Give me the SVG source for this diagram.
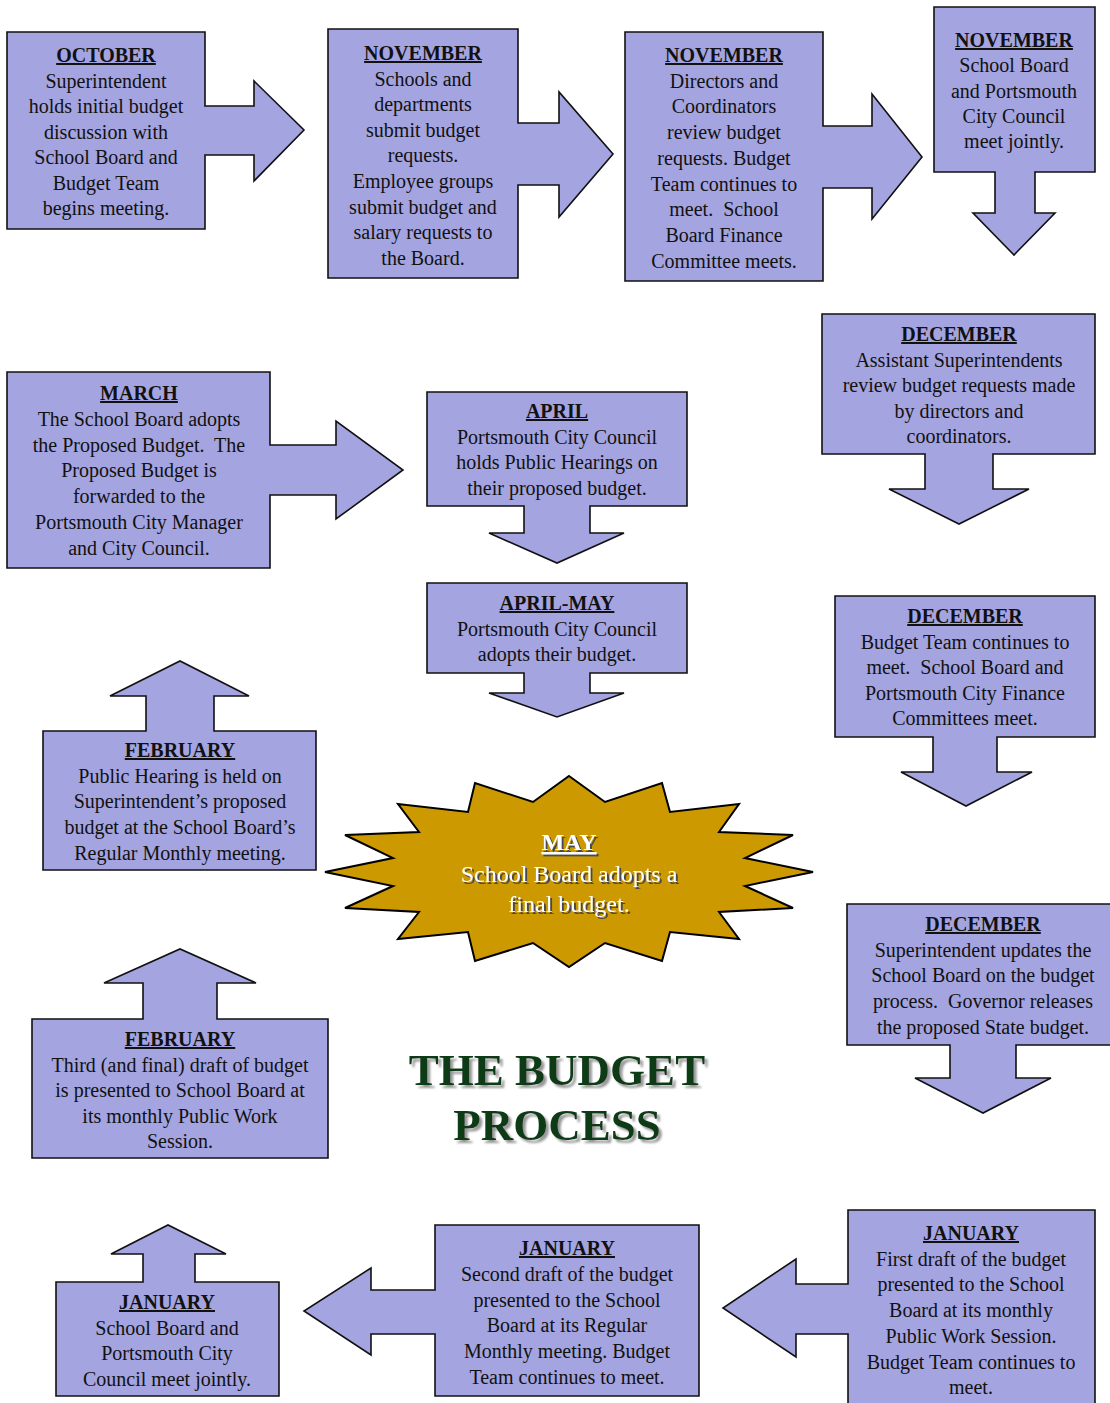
<svg xmlns="http://www.w3.org/2000/svg" width="1110" height="1403" viewBox="0 0 1110 1403">
<defs>
<style>
.shape{fill:#A4A4E0;stroke:#111;stroke-width:1.6;stroke-linejoin:miter}
.t{font-family:"Liberation Serif","Times New Roman",serif;font-size:20px;fill:#111;text-anchor:middle;white-space:pre}
.h{font-weight:bold;text-decoration:underline}
.star{fill:#CC9900;stroke:#000;stroke-width:2}
.st{font-family:"Liberation Serif","Times New Roman",serif;font-size:24px;text-anchor:middle;white-space:pre;fill:#fff}
.title{font-family:"Liberation Serif","Times New Roman",serif;font-size:45px;font-weight:bold;text-anchor:middle;fill:#0B3A18}
</style>
<filter id="tsh" x="-10%" y="-30%" width="120%" height="160%"><feDropShadow dx="3" dy="3" stdDeviation="1.2" flood-color="#999999" flood-opacity="1"/></filter>
<filter id="ssh" x="-10%" y="-30%" width="120%" height="160%"><feDropShadow dx="2" dy="2" stdDeviation="0.4" flood-color="#4a4a4a" flood-opacity="1"/></filter>
</defs>
<rect width="1110" height="1403" fill="#fff"/>

<g id="oct">
<polygon class="shape" points="7,32 205,32 205,106 254,106 254,81 304,130 254,181 254,155 205,155 205,229 7,229"/>
<text class="t"><tspan class="h" x="106" y="62">OCTOBER</tspan><tspan x="106" y="87.5">Superintendent</tspan><tspan x="106" y="113">holds initial budget</tspan><tspan x="106" y="138.5">discussion with</tspan><tspan x="106" y="164">School Board and</tspan><tspan x="106" y="189.5">Budget Team</tspan><tspan x="106" y="215">begins meeting.</tspan></text>
</g>

<g id="nov1">
<polygon class="shape" points="328,29 518,29 518,123 559,123 559,92 613,154 559,217 559,185 518,185 518,278 328,278"/>
<text class="t"><tspan class="h" x="423" y="60">NOVEMBER</tspan><tspan x="423" y="85.6">Schools and</tspan><tspan x="423" y="111.2">departments</tspan><tspan x="423" y="136.8">submit budget</tspan><tspan x="423" y="162.4">requests.</tspan><tspan x="423" y="188">Employee groups</tspan><tspan x="423" y="213.6">submit budget and</tspan><tspan x="423" y="239.2">salary requests to</tspan><tspan x="423" y="264.8">the Board.</tspan></text>
</g>

<g id="nov2">
<polygon class="shape" points="625,32 823,32 823,126 872,126 872,94 922,157 872,219 872,188 823,188 823,281 625,281"/>
<text class="t"><tspan class="h" x="724" y="62">NOVEMBER</tspan><tspan x="724" y="87.7">Directors and</tspan><tspan x="724" y="113.4">Coordinators</tspan><tspan x="724" y="139.1">review budget</tspan><tspan x="724" y="164.8">requests. Budget</tspan><tspan x="724" y="190.5">Team continues to</tspan><tspan x="724" y="216.2">meet.  School</tspan><tspan x="724" y="241.9">Board Finance</tspan><tspan x="724" y="267.6">Committee meets.</tspan></text>
</g>

<g id="nov3">
<polygon class="shape" points="934,7 1095,7 1095,172 1035,172 1035,213 1055,213 1014,255 973,213 995,213 995,172 934,172"/>
<text class="t"><tspan class="h" x="1014" y="47">NOVEMBER</tspan><tspan x="1014" y="72.3">School Board</tspan><tspan x="1014" y="97.6">and Portsmouth</tspan><tspan x="1014" y="122.9">City Council</tspan><tspan x="1014" y="148.2">meet jointly.</tspan></text>
</g>

<g id="dec1">
<polygon class="shape" points="822,314 1095,314 1095,454 993,454 993,489 1029,489 959,524 889,489 925,489 925,454 822,454"/>
<text class="t"><tspan class="h" x="959" y="341">DECEMBER</tspan><tspan x="959" y="366.5">Assistant Superintendents</tspan><tspan x="959" y="392">review budget requests made</tspan><tspan x="959" y="417.5">by directors and</tspan><tspan x="959" y="443">coordinators.</tspan></text>
</g>

<g id="march">
<polygon class="shape" points="7,372 270,372 270,445 336,445 336,421 403,470 336,519 336,495 270,495 270,568 7,568"/>
<text class="t"><tspan class="h" x="139" y="400">MARCH</tspan><tspan x="139" y="425.8">The School Board adopts</tspan><tspan x="139" y="451.6">the Proposed Budget.  The</tspan><tspan x="139" y="477.4">Proposed Budget is</tspan><tspan x="139" y="503.2">forwarded to the</tspan><tspan x="139" y="529">Portsmouth City Manager</tspan><tspan x="139" y="554.8">and City Council.</tspan></text>
</g>

<g id="april">
<polygon class="shape" points="427,392 687,392 687,506 590,506 590,533 624,533 557,563 489,533 524,533 524,506 427,506"/>
<text class="t"><tspan class="h" x="557" y="418">APRIL</tspan><tspan x="557" y="443.7">Portsmouth City Council</tspan><tspan x="557" y="469.4">holds Public Hearings on</tspan><tspan x="557" y="495.1">their proposed budget.</tspan></text>
</g>

<g id="aprilmay">
<polygon class="shape" points="427,583 687,583 687,673 590,673 590,693 624,693 557,717 489,693 524,693 524,673 427,673"/>
<text class="t"><tspan class="h" x="557" y="610">APRIL-MAY</tspan><tspan x="557" y="635.7">Portsmouth City Council</tspan><tspan x="557" y="661.4">adopts their budget.</tspan></text>
</g>

<g id="dec2">
<polygon class="shape" points="835,596 1095,596 1095,737 997,737 997,772 1032,772 966,806 901,772 933,772 933,737 835,737"/>
<text class="t"><tspan class="h" x="965" y="623">DECEMBER</tspan><tspan x="965" y="648.5">Budget Team continues to</tspan><tspan x="965" y="674">meet.  School Board and</tspan><tspan x="965" y="699.5">Portsmouth City Finance</tspan><tspan x="965" y="725">Committees meet.</tspan></text>
</g>

<g id="feb1">
<polygon class="shape" points="43,731 146,731 146,696 110,696 180,661 249,696 214,696 214,731 316,731 316,870 43,870"/>
<text class="t"><tspan class="h" x="180" y="757">FEBRUARY</tspan><tspan x="180" y="782.7">Public Hearing is held on</tspan><tspan x="180" y="808.4">Superintendent’s proposed</tspan><tspan x="180" y="834.1">budget at the School Board’s</tspan><tspan x="180" y="859.8">Regular Monthly meeting.</tspan></text>
</g>

<g id="may">
<polygon class="star" points="569,776 605,802 662,783 670,812 739,804 719,832 793,835 745,858 813,872 745,886 793,908 719,912 739,939 670,932 662,961 605,943 569,967 533,943 475,961 468,932 398,939 419,912 345,908 393,886 325,872 393,858 345,835 419,832 398,804 468,812 475,783 533,802"/>
<text class="st" filter="url(#ssh)"><tspan x="569" y="850" font-weight="bold" text-decoration="underline">MAY</tspan><tspan x="569" y="882">School Board adopts a</tspan><tspan x="569" y="912">final budget.</tspan></text>
</g>

<g id="dec3">
<polygon class="shape" points="847,904 1113,904 1113,1045 1016,1045 1016,1078 1051,1078 983,1113 915,1078 950,1078 950,1045 847,1045"/>
<text class="t"><tspan class="h" x="983" y="931">DECEMBER</tspan><tspan x="983" y="956.7">Superintendent updates the</tspan><tspan x="983" y="982.4">School Board on the budget</tspan><tspan x="983" y="1008.1">process.  Governor releases</tspan><tspan x="983" y="1033.8">the proposed State budget.</tspan></text>
</g>

<g id="feb2">
<polygon class="shape" points="32,1019 143,1019 143,983 104,983 180,949 256,983 217,983 217,1019 328,1019 328,1158 32,1158"/>
<text class="t"><tspan class="h" x="180" y="1046">FEBRUARY</tspan><tspan x="180" y="1071.5">Third (and final) draft of budget</tspan><tspan x="180" y="1097">is presented to School Board at</tspan><tspan x="180" y="1122.5">its monthly Public Work</tspan><tspan x="180" y="1148">Session.</tspan></text>
</g>

<g id="title">
<text class="title" filter="url(#tsh)"><tspan x="557" y="1085">THE BUDGET</tspan><tspan x="557" y="1140">PROCESS</tspan></text>
</g>

<g id="jan1">
<polygon class="shape" points="848,1210 1095,1210 1095,1412 848,1412 848,1334 796,1334 796,1357 723,1308 796,1259 796,1284 848,1284"/>
<text class="t"><tspan class="h" x="971" y="1240">JANUARY</tspan><tspan x="971" y="1265.7">First draft of the budget</tspan><tspan x="971" y="1291.4">presented to the School</tspan><tspan x="971" y="1317.1">Board at its monthly</tspan><tspan x="971" y="1342.8">Public Work Session.</tspan><tspan x="971" y="1368.5">Budget Team continues to</tspan><tspan x="971" y="1394.2">meet.</tspan></text>
</g>

<g id="jan2">
<polygon class="shape" points="435,1225 699,1225 699,1396 435,1396 435,1334 371,1334 371,1355 304,1311 371,1268 371,1290 435,1290"/>
<text class="t"><tspan class="h" x="567" y="1255">JANUARY</tspan><tspan x="567" y="1280.8">Second draft of the budget</tspan><tspan x="567" y="1306.6">presented to the School</tspan><tspan x="567" y="1332.4">Board at its Regular</tspan><tspan x="567" y="1358.2">Monthly meeting. Budget</tspan><tspan x="567" y="1384">Team continues to meet.</tspan></text>
</g>

<g id="jan3">
<polygon class="shape" points="56,1282 143,1282 143,1254 111,1254 168,1225 226,1254 195,1254 195,1282 279,1282 279,1396 56,1396"/>
<text class="t"><tspan class="h" x="167" y="1309">JANUARY</tspan><tspan x="167" y="1334.5">School Board and</tspan><tspan x="167" y="1360">Portsmouth City</tspan><tspan x="167" y="1385.5">Council meet jointly.</tspan></text>
</g>

<g id="connectors"></g>
</svg>
